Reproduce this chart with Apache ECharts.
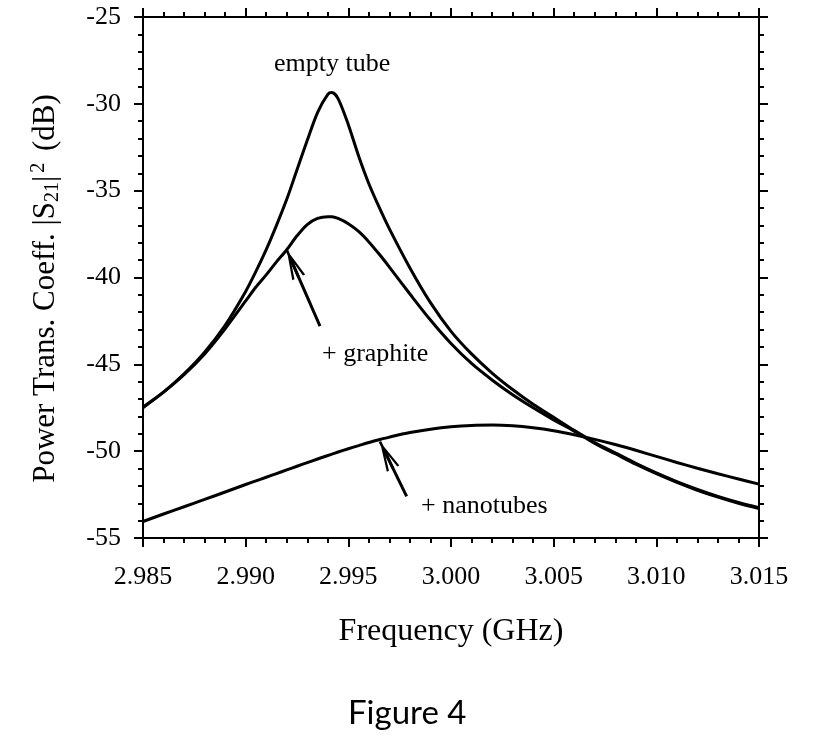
<!DOCTYPE html>
<html>
<head>
<meta charset="utf-8">
<script src="https://cdn.jsdelivr.net/npm/echarts@6/dist/echarts.min.js"></script>
<style>
  html, body { margin: 0; padding: 0; background: #fff; }
  #chart { width: 815px; height: 748px; }
</style>
</head>
<body>
<div id="chart"></div>
<script>
// frequency grid (GHz)
const freq = [2.985, 2.986, 2.987, 2.988, 2.989, 2.990, 2.9905, 2.991, 2.9915, 2.992, 2.9925, 2.993, 2.9935,
  2.994, 2.9942, 2.9945, 2.995, 2.9955, 2.996, 2.9965, 2.997, 2.998, 2.999, 3.000, 3.001, 3.002, 3.003,
  3.004, 3.005, 3.006, 3.007, 3.008, 3.009, 3.010, 3.011, 3.012, 3.013, 3.014, 3.015];

// |S21|^2 (dB)
const emptyTube = [-47.45, -46.6, -45.55, -44.3, -42.75, -40.8, -39.65, -38.4, -37.0, -35.5, -33.8, -32.1, -30.5,
  -29.45, -29.35, -29.7, -31.2, -33.0, -34.6, -35.95, -37.2, -39.45, -41.45, -43.1, -44.4, -45.5, -46.45,
  -47.3, -48.05, -48.8, -49.5, -50.1, -50.7, -51.25, -51.75, -52.2, -52.6, -52.95, -53.25];
const graphite = [-47.5, -46.6, -45.6, -44.4, -42.95, -41.35, -40.55, -39.85, -39.1, -38.4, -37.6, -36.95, -36.6,
  -36.5, -36.5, -36.6, -36.9, -37.35, -37.95, -38.65, -39.4, -40.95, -42.45, -43.8, -44.95, -45.9, -46.75,
  -47.5, -48.2, -48.85, -49.55, -50.15, -50.75, -51.3, -51.8, -52.25, -52.65, -53.0, -53.3];
const nanotubes = [-54.05, -53.62, -53.2, -52.78, -52.35, -51.92, -51.71, -51.5, -51.29, -51.08, -50.87, -50.66, -50.45,
  -50.25, -50.17, -50.05, -49.86, -49.68, -49.5, -49.34, -49.19, -48.93, -48.74, -48.6, -48.52, -48.5, -48.54,
  -48.65, -48.82, -49.05, -49.32, -49.62, -49.95, -50.3, -50.65, -50.98, -51.3, -51.6, -51.9];

const xTicks = ['2.985', '2.990', '2.995', '3.000', '3.005', '3.010', '3.015'];

function pairs(ys) {
  return freq.map((f, i) => [f, ys[i]]);
}

const serif = 'Liberation Serif';
const chart = echarts.init(document.getElementById('chart'));

// open V arrow head with the shaft running up to the tip
const vHead = 'path://M0,0 L7,30 L4.6,30 L0,9 L-4.6,30 L-7,30 Z M-1.3,0 L1.3,0 L1.3,30 L-1.3,30 Z';

function curve(name, ys, extra) {
  return Object.assign({
    name: name,
    type: 'line',
    data: pairs(ys),
    smooth: 0.3,
    showSymbol: false,
    lineStyle: {color: '#000', width: 3},
    xAxisIndex: 0,
    yAxisIndex: 0,
  }, extra || {});
}

function arrow(from, to) {
  return {
    silent: true,
    symbol: ['none', vHead],
    symbolSize: [14, 30],
    label: {show: false},
    lineStyle: {color: '#000', width: 3, type: 'solid'},
    itemStyle: {color: '#000'},
    data: [[{coord: from}, {coord: to}]]
  };
}

const axisCommon = {
  type: 'value',
  axisLine: {show: true, onZero: false, lineStyle: {color: '#000', width: 2}},
  axisTick: {show: true, length: 9, lineStyle: {color: '#000', width: 2}},
  minorTick: {show: true, splitNumber: 5, length: 5, lineStyle: {color: '#000', width: 2}},
  splitLine: {show: false},
};

chart.setOption({
  animation: false,
  backgroundColor: '#fff',
  grid: {left: 143, right: 56, top: 17, bottom: 210},
  xAxis: [
    Object.assign({}, axisCommon, {
      min: 2.985, max: 3.015, interval: 0.005,
      name: 'Frequency (GHz)',
      nameLocation: 'middle',
      nameGap: 78,
      nameTextStyle: {fontFamily: serif, fontSize: 32, color: '#000'},
      axisLabel: {
        fontFamily: serif, fontSize: 26, color: '#000', margin: 26,
        formatter: (v) => xTicks.find(t => Math.abs(parseFloat(t) - v) < 1e-6) || ''
      }
    }),
    Object.assign({}, axisCommon, {
      position: 'top', min: 2.985, max: 3.015, interval: 0.005,
      axisLabel: {show: false}
    })
  ],
  yAxis: [
    Object.assign({}, axisCommon, {
      min: -55, max: -25, interval: 5,
      name: '{n|Power Trans. Coeff. |S}{sub|21}{n||}{sup|2}{n| (dB)}',
      nameLocation: 'middle',
      nameGap: 80,
      nameRotate: 90,
      nameTextStyle: {
        fontFamily: serif, fontSize: 31, color: '#000',
        padding: [0, 22, 0, 0],
        rich: {
          n: {fontFamily: serif, fontSize: 31, color: '#000'},
          sub: {fontFamily: serif, fontSize: 20, color: '#000', verticalAlign: 'bottom', padding: [14, 0, 0, 0]},
          sup: {fontFamily: serif, fontSize: 20, color: '#000', verticalAlign: 'top', padding: [0, 4, 12, 3]}
        }
      },
      axisLabel: {fontFamily: serif, fontSize: 26, color: '#000', margin: 22}
    }),
    Object.assign({}, axisCommon, {
      position: 'right', min: -55, max: -25, interval: 5,
      axisLabel: {show: false}
    })
  ],
  series: [
    curve('empty tube', emptyTube),
    curve('+ graphite', graphite, {markLine: arrow([2.99362, -42.8], [2.99229, -39.2])}),
    curve('+ nanotubes', nanotubes, {markLine: arrow([2.99784, -52.6], [2.99686, -50.23])})
  ],
  graphic: [
    {type: 'text', left: 274, top: 51, style: {text: 'empty tube', font: '26px "Liberation Serif"', fill: '#000'}},
    {type: 'text', left: 322, top: 341, style: {text: '+ graphite', font: '26px "Liberation Serif"', fill: '#000'}},
    {type: 'text', left: 421, top: 493, style: {text: '+ nanotubes', font: '26px "Liberation Serif"', fill: '#000'}},
    {type: 'text', left: 348, top: 697, style: {text: 'Figure 4', font: '33px Lato', fill: '#000'}}
  ]
});
</script>
</body>
</html>
